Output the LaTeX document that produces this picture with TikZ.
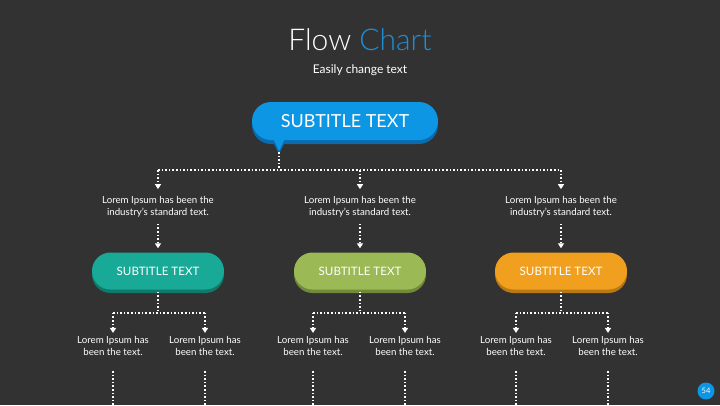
\documentclass[tikz,border=0pt]{standalone}
\usepackage{fontspec}
\setmainfont{Lato}
\newfontfamily\lightfont{Lato}[UprightFont=* Light]
\usetikzlibrary{arrows.meta,positioning,calc}
\definecolor{bg}{RGB}{50,50,50}
\definecolor{blue}{RGB}{12,150,228}
\definecolor{darkblue}{RGB}{10,108,176}
\definecolor{titleblue}{RGB}{32,140,210}
\definecolor{teal}{RGB}{24,170,150}
\definecolor{darkteal}{RGB}{16,122,106}
\definecolor{green}{RGB}{155,185,85}
\definecolor{darkgreen}{RGB}{112,138,58}
\definecolor{orange}{RGB}{240,160,30}
\definecolor{darkorange}{RGB}{186,120,20}

\begin{document}
\begin{tikzpicture}[x=1pt,y=-1pt,
  pill/.style={rounded corners=18.5pt,minimum width=132pt,minimum height=37pt,inner sep=0pt,text=white,font=\fontsize{11.6}{13}\selectfont},
  note/.style={text=white,align=center,inner sep=1pt,font=\fontsize{9.7}{12.5}\selectfont},
  dotline/.style={draw=white,line width=1.6pt,dotted},
  arr/.style={dotline,-{Triangle[width=6pt,length=5pt]}}]
  \fill[bg] (0,0) rectangle (720,405);
  \useasboundingbox (0,0) rectangle (720,405);
  \node[text=white,font=\lightfont\fontsize{30}{34}\selectfont] (title) at (360,40) {Flow \textcolor{titleblue}{Chart}};
  \node[text=white,font=\fontsize{12}{14}\selectfont] (sub) at (360,70) {Easily change text};
  \fill[darkblue,rounded corners=19pt] (252,106) rectangle (438,144);
  \fill[darkblue] (272,140) -- (286,140) -- (279,154) -- cycle;
  \fill[blue] (272,136) -- (286,136) -- (279,151) -- cycle;
  \node[fill=blue,rounded corners=19pt,minimum width=186pt,minimum height=38pt,inner sep=0pt,text=white,font=\fontsize{18}{20}\selectfont] (top) at (345,121) {SUBTITLE TEXT};
  \coordinate (tail) at (279,152);
  \coordinate (bar) at (279,170);
  \node[note] (t1) at (158,207) {Lorem Ipsum has been the\\industry's standard text.};
  \node[note] (t2) at (360,207) {Lorem Ipsum has been the\\industry's standard text.};
  \node[note] (t3) at (561,207) {Lorem Ipsum has been the\\industry's standard text.};
  \draw[dotline] (tail) -- (bar);
  \draw[dotline] (t1.north |- bar) -- (t3.north |- bar);
  \foreach \x in {t1,t2,t3}{\draw[arr] (\x.north |- bar) -- ([yshift=6pt]\x.north);}
  \foreach \x/\c/\px in {p1/teal/158,p2/green/360,p3/orange/561}{
    \fill[dark\c,rounded corners=18.5pt] (\px-66,256) rectangle (\px+66,293);
    \node[pill,fill=\c] (\x) at (\px,271) {SUBTITLE TEXT};
  }
  \foreach \x/\y in {t1/p1,t2/p2,t3/p3}{\draw[arr] ([yshift=-5pt]\x.south) -- ([yshift=4pt]\x.south |- \y.north);}
  \foreach \p/\a/\b/\xa/\xb in {p1/s1a/s1b/113/205,p2/s2a/s2b/313/405,p3/s3a/s3b/516/608}{
    \node[note] (\a) at (\xa,346) {Lorem Ipsum has\\been the text.};
    \node[note] (\b) at (\xb,346) {Lorem Ipsum has\\been the text.};
    \coordinate (\p bar) at ($(\p.south)+(0,23)$);
    \draw[dotline] ([yshift=-2pt]\p.south) -- (\p bar);
    \draw[dotline] (\a.north |- \p bar) -- (\b.north |- \p bar);
    \draw[arr] (\a.north |- \p bar) -- ([yshift=2pt]\a.north);
    \draw[arr] (\b.north |- \p bar) -- ([yshift=2pt]\b.north);
    \draw[dotline] ([yshift=-14pt]\a.south) -- (\a.south |- 0,405);
    \draw[dotline] ([yshift=-14pt]\b.south) -- (\b.south |- 0,405);
  }
  \node[circle,fill=blue,minimum size=17pt,inner sep=0pt,text=white,font=\fontsize{7.5}{8}\selectfont] (page) at (706,391) {54};
\end{tikzpicture}
\end{document}
